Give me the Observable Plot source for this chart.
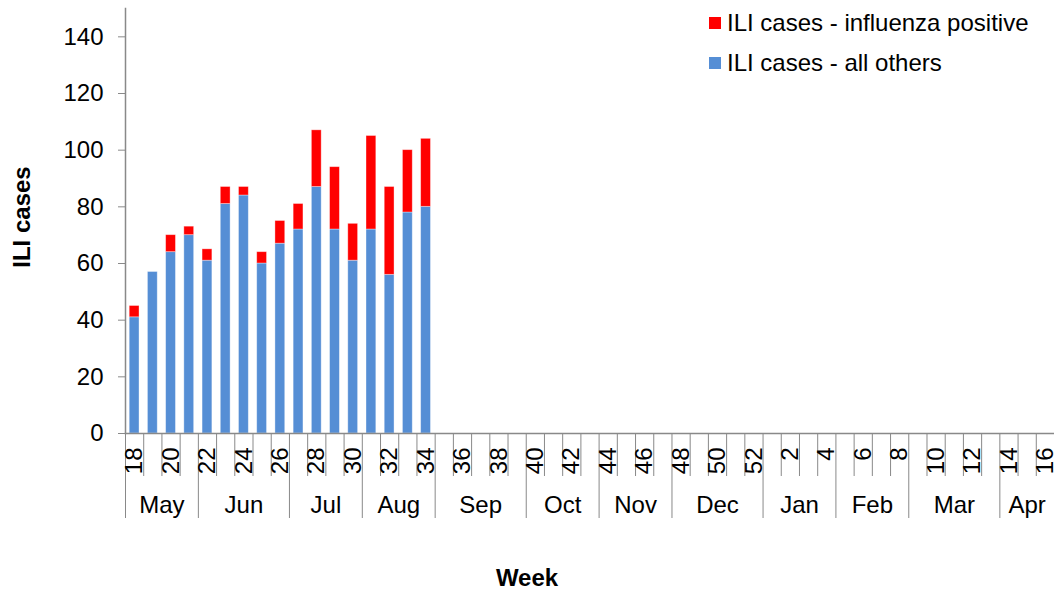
<!DOCTYPE html>
<html>
<head>
<meta charset="utf-8">
<script src="https://cdn.jsdelivr.net/npm/d3@7"></script>
<script src="https://cdn.jsdelivr.net/npm/@observablehq/plot@0.6"></script>
<style>
  html, body { margin: 0; padding: 0; background: #fff; }
  #chart { position: relative; width: 1054px; height: 591px; font-family: "Liberation Sans", Arial, sans-serif; }
  #legend { position: absolute; left: 709px; top: 3px; font-size: 24px; color: #000; }
  .item { display: flex; align-items: center; height: 40px; }
  .sw { width: 12px; height: 12px; margin-right: 6px; }
</style>
</head>
<body>
<div id="chart"><div id="legend"></div></div>
<script>
// Week tick labels along the season (week 18 to week 16 of the next year)
const weekLabels = ["18","19","20","21","22","23","24","25","26","27","28","29","30","31","32","33","34","35","36","37","38","39","40","41","42","43","44","45","46","47","48","49","50","51","52","1","2","3","4","5","6","7","8","9","10","11","12","13","14","15","16"];
// Months and number of weeks of each month shown
const months = ["May","Jun","Jul","Aug","Sep","Oct","Nov","Dec","Jan","Feb","Mar","Apr"];
const monthWeeks = [4,5,4,4,5,4,4,5,4,4,5,3];
// Reported weeks with data
const dataWeeks = ["18","19","20","21","22","23","24","25","26","27","28","29","30","31","32","33","34"];
const allOthers = [41,57,64,70,61,81,84,60,67,72,87,72,61,72,56,78,80];
const influenzaPositive = [4,0,6,3,4,6,3,4,8,9,20,22,13,33,31,22,24];
const yTicks = [0,20,40,60,80,100,120,140];
const seriesNames = ["ILI cases - influenza positive","ILI cases - all others"];
const seriesColors = ["#ff0000","#558ed5"];

const gray = "#898989";
const font = "Liberation Sans, Arial, sans-serif";

// Build table
const rows = [];
dataWeeks.forEach((w, k) => {
  const i = weekLabels.indexOf(w);
  rows.push({i, series: seriesNames[1], y1: 0, y2: allOthers[k]});
  rows.push({i, series: seriesNames[0], y1: allOthers[k], y2: allOthers[k] + influenzaPositive[k]});
});
const nWeeks = weekLabels.length;
const monthStarts = [];
let acc = 0;
for (const n of monthWeeks) { monthStarts.push(acc); acc += n; }
const monthCenters = monthStarts.map((s, k) => s + monthWeeks[k] / 2);
const weekTicks = d3.range(1, nWeeks).filter(t => !monthStarts.includes(t));
const labelPos = d3.range(0, nWeeks, 2).map(i => i + 0.5);

const plot = Plot.plot({
  width: 1054,
  height: 591,
  marginLeft: 125,
  marginRight: 0,
  marginTop: 8,
  marginBottom: 158,
  style: {fontFamily: font, fontSize: "24px", color: "#000", background: "#fff", overflow: "visible"},
  x: {type: "linear", domain: [0, nWeeks]},
  y: {domain: [0, 150]},
  color: {domain: seriesNames, range: seriesColors},
  marks: [
    Plot.rect(rows, {x1: d => d.i, x2: d => d.i + 1, y1: "y1", y2: "y2", fill: "series",
      insetLeft: 4.2, insetRight: 4.2, stroke: "#fff", strokeOpacity: 0.45, strokeWidth: 0.8}),
    Plot.axisY({ticks: yTicks, tickSize: 7, tickPadding: 15, label: null, stroke: gray, fill: "#000", fontSize: 24}),
    Plot.axisX({ticks: weekTicks, tickSize: 43, tickFormat: () => "", label: null, stroke: gray}),
    Plot.axisX({ticks: monthStarts, tickSize: 85, tickFormat: () => "", label: null, stroke: gray}),
    Plot.axisX({ticks: labelPos, tickSize: 0, tickPadding: 14, tickRotate: -90, label: null,
      tickFormat: d => weekLabels[Math.floor(d)], fill: "#000", fontSize: 24}),
    Plot.axisX({ticks: monthCenters, tickSize: 0, tickPadding: 62, label: null,
      tickFormat: d => months[monthCenters.indexOf(d)], fill: "#000", fontSize: 24}),
    Plot.frame({anchor: "left", stroke: gray, strokeWidth: 1.5}),
    Plot.frame({anchor: "bottom", stroke: gray, strokeWidth: 1.5}),
    Plot.text(["ILI cases"], {frameAnchor: "left", textAnchor: "middle", rotate: -90, dx: -103, dy: -4, fontWeight: "bold", fontSize: 24, fill: "#000"}),
    Plot.text(["Week"], {frameAnchor: "bottom", dx: -63, dy: 145, lineAnchor: "middle", fontWeight: "bold", fontSize: 24, fill: "#000"})
  ]
});
document.getElementById("chart").prepend(plot);

const legend = document.getElementById("legend");
seriesNames.forEach((name, k) => {
  const item = document.createElement("div");
  item.className = "item";
  const sw = document.createElement("span");
  sw.className = "sw";
  sw.style.background = seriesColors[k];
  const t = document.createElement("span");
  t.textContent = name;
  item.append(sw, t);
  legend.append(item);
});
</script>
</body>
</html>
